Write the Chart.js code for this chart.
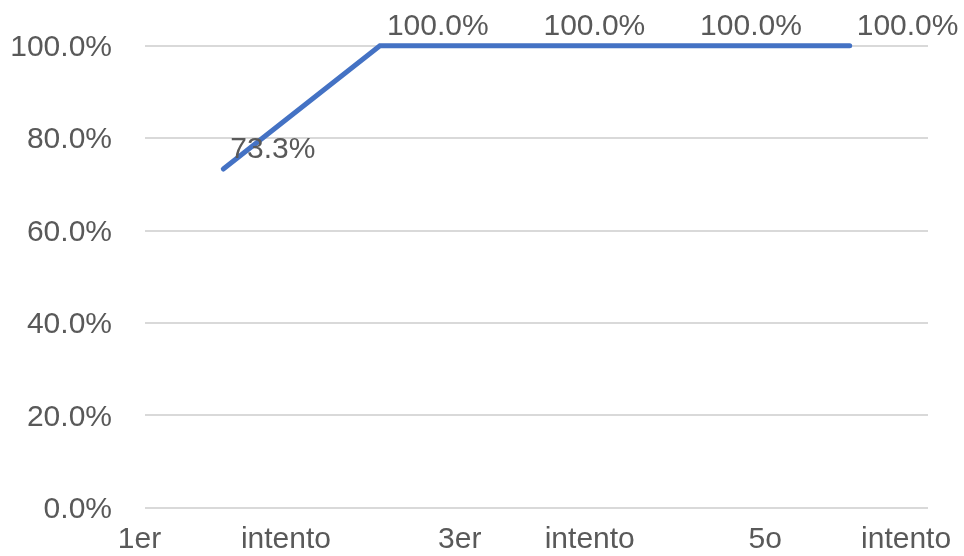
<!DOCTYPE html>
<html>
<head>
<meta charset="utf-8">
<script src="https://cdn.jsdelivr.net/npm/chart.js@4.4.1/dist/chart.umd.min.js"></script>
<style>
  html, body { margin: 0; padding: 0; background: #ffffff; }
  #wrap { width: 964px; height: 556px; }
</style>
</head>
<body>
<div id="wrap"><canvas id="chart" width="964" height="556"></canvas></div>
<script>
// Success rate per attempt (percent)
const attempts = ["1er intento", "2o intento", "3er intento", "4o intento", "5o intento"];
const successRate = [73.3, 100.0, 100.0, 100.0, 100.0];

// Words shown along the horizontal axis and where each one sits (in attempt units)
const xTickLabels = ["1er", "intento", "3er", "intento", "5o", "intento"];
const xTickAt = [-0.535, 0.40, 1.51, 2.34, 3.46, 4.36];

const yTicks = [0, 20, 40, 60, 80, 100];

const textColor = "#595959";
const fontFamily = "'Liberation Sans', Arial, Helvetica, sans-serif";

// Writes each point's value just above and to the right of it
const valueLabels = {
  id: "valueLabels",
  afterDatasetsDraw(chart) {
    const ctx = chart.ctx;
    const meta = chart.getDatasetMeta(0);
    ctx.save();
    ctx.font = "30px " + fontFamily;
    ctx.fillStyle = textColor;
    ctx.textAlign = "left";
    ctx.textBaseline = "middle";
    meta.data.forEach((pt, i) => {
      const v = chart.data.datasets[0].data[i].y;
      ctx.fillText(v.toFixed(1) + "%", pt.x + 7, pt.y - 19);
    });
    ctx.restore();
  }
};

new Chart(document.getElementById("chart"), {
  type: "line",
  data: {
    datasets: [{
      label: "Éxito",
      data: successRate.map((v, i) => ({ x: i, y: v })),
      borderColor: "#4472C4",
      borderWidth: 5,
      borderCapStyle: "round",
      borderJoinStyle: "miter",
      pointRadius: 0,
      pointHoverRadius: 0,
      tension: 0,
      clip: false
    }]
  },
  options: {
    responsive: false,
    animation: false,
    events: [],
    layout: { padding: { top: 45.7, right: 36, left: 0, bottom: 0 } },
    plugins: {
      legend: { display: false },
      tooltip: { enabled: false },
      title: { display: false }
    },
    scales: {
      x: {
        type: "linear",
        min: -0.5,
        max: 4.5,
        grid: { display: false },
        border: { display: false },
        afterBuildTicks(scale) {
          scale.ticks = xTickAt.map(v => ({ value: v }));
        },
        afterFit(scale) {
          scale.height = 48.3;
          scale.paddingLeft = 0;
          scale.paddingRight = 0;
          scale.paddingTop = 0;
          scale.paddingBottom = 0;
        },
        ticks: {
          autoSkip: false,
          maxRotation: 0,
          minRotation: 0,
          padding: 6,
          color: textColor,
          font: { family: fontFamily, size: 30 },
          callback: (value, index) => xTickLabels[index]
        }
      },
      y: {
        min: 0,
        max: 100,
        afterBuildTicks(scale) {
          scale.ticks = yTicks.map(v => ({ value: v }));
        },
        afterFit(scale) {
          scale.width = 145;
          scale.paddingTop = 0;
          scale.paddingBottom = 0;
          scale.paddingLeft = 0;
          scale.paddingRight = 0;
        },
        grid: { color: "#d9d9d9", lineWidth: 2, drawTicks: false },
        border: { display: false },
        ticks: {
          padding: 33,
          labelOffset: 2,
          color: textColor,
          font: { family: fontFamily, size: 30 },
          callback: v => v.toFixed(1) + "%"
        }
      }
    }
  },
  plugins: [valueLabels]
});
</script>
</body>
</html>
